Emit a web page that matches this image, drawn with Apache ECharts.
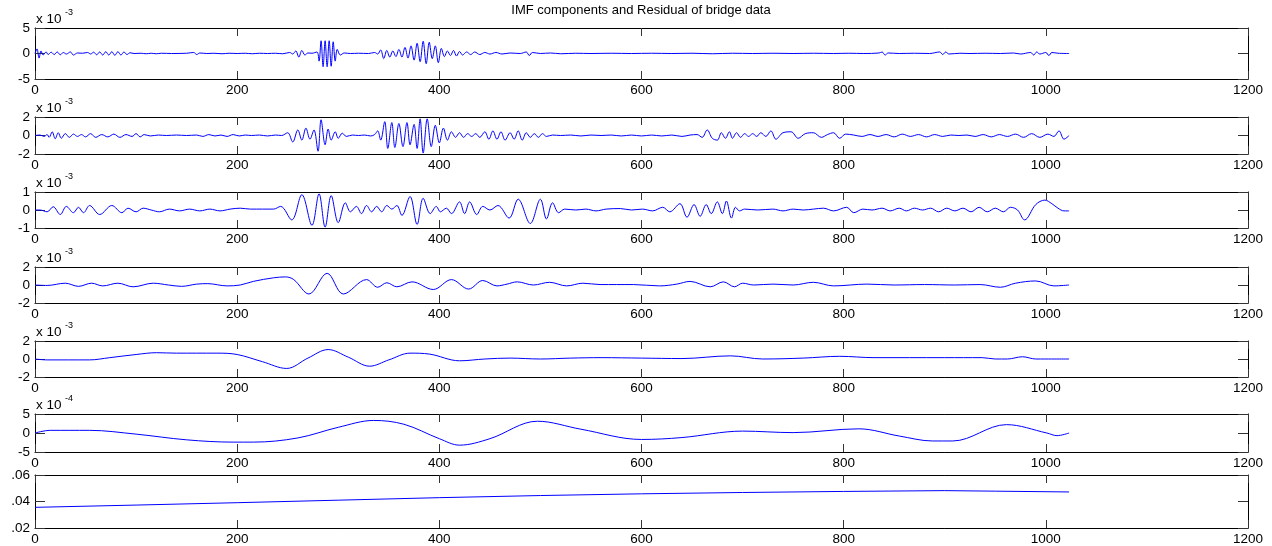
<!DOCTYPE html>
<html>
<head>
<meta charset="utf-8">
<script src="https://cdn.jsdelivr.net/npm/echarts@6/dist/echarts.min.js"></script>
<style>
html, body { margin: 0; padding: 0; background: #fff; }
#container { width: 1272px; height: 546px; }
</style>
</head>
<body>
<div id="container"></div>
<script>
// x axis: sample index
var xMax = 1200;
var xStep = 200;

// IMF 1..5 in units of 1e-3, IMF 6 in units of 1e-4, residual in real units
var imf1 = [[0,0],[2,0.9],[4,-0.9],[6,0.5],[8,-0.3],[11,0.3],[13,-0.2],[16,0.25],[19,-0.2],[22,0.3],[25,-0.25],[28,0.2],[31,-0.1],[35,0.3],[38,-0.3],[42,0.1],[47,0.05],[52,0.2],[55,-0.1],[58,0.25],[61,-0.25],[64,0.3],[67,-0.3],[70,0.35],[73,-0.3],[76,0.35],[79,-0.35],[82,0.35],[85,-0.3],[88,0.3],[91,-0.2],[94,0.15],[98,0],[105,0.05],[110,-0.05],[115,0.05],[120,-0.05],[125,0.05],[135,0],[150,0.05],[157,0.2],[160,-0.2],[163,0.1],[170,0],[177,0.05],[185,-0.05],[192,0.05],[200,0],[208,0.05],[215,-0.05],[222,0.05],[230,0],[238,0.05],[245,-0.05],[252,0.2],[255,-0.1],[258,0.5],[261,-0.7],[264,0.6],[267,-0.3],[270,0.1],[274,0.05],[279,0.3],[281,-1.5],[283,2.5],[285,-2.6],[287,2.5],[289,-2.6],[291,2.5],[293,-2.5],[295,2.3],[297,-1.5],[299,0.8],[302,-0.3],[306,0.1],[312,0],[320,0.05],[330,0],[336,0.2],[339,-0.1],[342,0.7],[345,-1.0],[348,0.6],[351,-0.7],[354,0.5],[357,-0.6],[360,0.8],[363,-0.7],[366,1.2],[369,-0.9],[372,1.5],[375,-1.3],[378,2.0],[381,-1.6],[384,2.4],[387,-2.0],[390,2.2],[393,-1.0],[396,1.5],[399,-1.8],[402,1.0],[405,-0.6],[408,0.5],[411,-0.4],[414,0.6],[417,-0.5],[420,0.4],[423,-0.3],[427,0.3],[431,-0.2],[435,0.3],[440,-0.2],[445,0.2],[450,-0.1],[456,0.2],[462,-0.1],[470,0.1],[480,0],[486,0.3],[489,-0.4],[492,0.2],[500,0],[510,0.1],[520,-0.05],[535,0.05],[550,0],[570,0.05],[590,0],[610,0.05],[630,0],[650,0.05],[670,-0.05],[690,0.05],[710,0],[730,0.05],[750,0],[770,0.05],[790,0],[805,0.05],[820,0],[835,0.1],[838,0.3],[841,-0.3],[844,0.1],[855,0],[870,0.05],[885,0],[895,0.3],[898,-0.2],[901,0.3],[904,-0.1],[915,0.05],[925,0],[940,0.05],[955,0],[968,0.1],[975,-0.1],[985,0.2],[988,-0.3],[991,0.3],[994,-0.1],[1000,0.2],[1003,-0.4],[1006,0.2],[1012,0.05],[1023,0]];

var imf2 = [[0,0],[5,0.05],[9,-0.1],[12,0.1],[14,-0.2],[17,0.4],[20,-0.35],[23,0.3],[26,-0.3],[30,0.2],[34,-0.2],[38,0.15],[42,-0.1],[46,0.1],[50,-0.15],[55,0.2],[60,-0.2],[66,0.1],[72,-0.15],[78,0.15],[84,-0.2],[90,0.1],[96,-0.1],[100,0.2],[104,-0.15],[108,0.1],[114,-0.05],[122,0.05],[130,0],[140,0.05],[150,0],[160,0.05],[166,-0.1],[172,0.1],[178,-0.05],[184,0.05],[190,-0.1],[196,0.1],[202,-0.05],[208,0.05],[214,0],[222,0.05],[230,-0.05],[238,0.05],[244,0],[250,0.3],[255,-0.7],[260,0.6],[264,-0.5],[268,0.8],[272,-0.4],[276,0.6],[280,-1.7],[283,1.7],[287,-1.0],[290,0.7],[293,-0.5],[297,0.4],[300,-0.3],[304,0.25],[308,-0.1],[314,0.05],[320,0],[326,0.05],[332,-0.05],[336,0.1],[339,0.5],[342,-0.5],[346,1.5],[349,-1.4],[353,1.4],[356,-1.3],[360,1.3],[364,-1.2],[368,1.4],[371,-1.0],[375,1.2],[378,-1.4],[381,1.8],[384,-1.9],[388,1.8],[392,-1.2],[396,1.1],[400,-0.8],[404,0.8],[408,-0.5],[412,0.4],[416,-0.2],[420,0.3],[424,-0.2],[428,0.2],[432,-0.1],[436,0.2],[440,-0.2],[445,0.4],[449,-0.4],[453,0.5],[457,-0.4],[461,0.4],[465,-0.5],[470,0.3],[474,-0.4],[478,0.5],[482,-0.5],[486,0.3],[490,-0.2],[494,0.2],[498,-0.2],[502,0.2],[506,-0.1],[512,0.05],[520,0],[530,0.05],[540,-0.05],[550,0.05],[560,0],[570,0.05],[580,-0.05],[590,0.05],[600,-0.05],[610,0.05],[620,-0.05],[630,0.05],[640,-0.1],[648,0.05],[655,0.1],[660,-0.2],[665,0.6],[670,-0.3],[675,-0.5],[679,0.3],[683,-0.3],[687,0.4],[690,-0.3],[694,0.3],[698,-0.2],[702,0.2],[706,-0.1],[710,0.2],[714,-0.1],[718,0.3],[723,-0.1],[728,0.5],[733,-0.4],[740,0.3],[748,0.4],[755,-0.3],[762,0.2],[770,0.3],[778,-0.2],[784,0.1],[790,0.3],[796,-0.3],[802,0.15],[810,0.05],[818,-0.1],[826,0.1],[834,-0.1],[842,0.1],[850,-0.15],[858,0.15],[866,-0.1],[874,0.1],[882,-0.15],[890,0.1],[898,-0.1],[906,0.05],[914,0],[922,0.05],[930,-0.1],[938,0.1],[946,-0.15],[954,0.1],[962,-0.1],[970,0.15],[978,-0.2],[986,0.2],[994,-0.2],[1002,0.15],[1008,-0.1],[1013,0.5],[1018,-0.4],[1023,0]];

var imf3 = [[0,0],[5,0],[12,-0.1],[18,0.18],[25,-0.25],[31,0.2],[38,-0.15],[43,0.15],[48,-0.15],[54,0.25],[64,-0.25],[76,0.25],[86,-0.15],[92,0.1],[100,-0.1],[107,0.1],[115,0],[123,-0.1],[133,0.05],[143,-0.05],[153,0.05],[163,-0.05],[173,0.05],[183,-0.05],[193,0.05],[203,0.1],[213,0.05],[225,0.05],[236,0.05],[243,0.2],[254,-0.55],[264,0.85],[274,-0.85],[281,0.9],[287,-0.95],[293,0.8],[300,-0.7],[307,0.4],[312,-0.1],[318,0.2],[323,-0.2],[328,0.25],[333,-0.1],[338,0.2],[343,-0.1],[348,0.25],[353,0.05],[358,0.25],[363,-0.3],[371,0.75],[378,-0.8],[384,0.65],[391,-0.2],[397,0.2],[401,-0.1],[407,0.1],[412,-0.2],[420,0.45],[425,-0.2],[430,0.45],[437,-0.25],[443,0.2],[450,0],[458,0.25],[469,-0.45],[478,0.6],[490,-0.75],[500,0.6],[506,-0.5],[512,0.4],[518,-0.15],[524,0.05],[535,0],[545,0.05],[555,-0.05],[565,0.05],[579,0.08],[590,0],[601,0.05],[611,-0.05],[621,0.15],[628,-0.1],[638,0.35],[645,-0.4],[652,0.3],[658,-0.35],[664,0.3],[669,-0.2],[675,0.45],[680,-0.2],[684,0.5],[689,-0.45],[693,0.15],[697,-0.05],[702,0.05],[715,0],[730,0.05],[740,-0.05],[750,0.05],[760,0],[770,0.05],[780,0.1],[790,-0.05],[803,0.15],[810,-0.15],[819,0.05],[828,0],[838,0.1],[846,-0.05],[855,0.1],[862,-0.05],[870,0.1],[878,0],[886,0.1],[894,-0.1],[902,0.1],[910,-0.05],[918,0.1],[926,-0.1],[934,0.15],[942,-0.1],[950,0.1],[958,-0.1],[965,0.15],[972,0],[979,-0.55],[990,0.3],[999,0.55],[1006,0.35],[1012,0.1],[1018,-0.05],[1023,-0.05]];

var imf4 = [[0,0],[12,-0.05],[30,0.2],[43,-0.15],[56,0.2],[67,-0.1],[82,0.2],[97,-0.2],[117,0.2],[132,0],[145,-0.15],[160,0.1],[171,0.15],[190,-0.1],[203,0],[216,0.4],[236,0.8],[248,0.9],[256,0.6],[271,-1.0],[289,1.3],[305,-1.0],[328,0.6],[339,-0.25],[348,0.25],[358,-0.2],[373,0.35],[394,-0.5],[412,0.6],[429,-0.45],[443,0.5],[457,-0.1],[467,0.1],[477,0.35],[493,0],[509,0.3],[526,-0.1],[542,0.2],[559,0.05],[592,0.05],[618,-0.1],[635,0.1],[648,0.4],[668,-0.2],[681,0.35],[692,-0.2],[700,0.2],[711,0],[730,0.1],[750,0],[770,0.3],[790,-0.1],[823,0.1],[850,0],[880,0.05],[910,0],[935,0.05],[955,-0.25],[970,0.2],[990,0.45],[1008,-0.1],[1023,0]];

var imf5 = [[0,0],[12,-0.1],[54,-0.1],[74,0.15],[100,0.5],[120,0.7],[140,0.65],[180,0.65],[200,0.5],[225,-0.3],[249,-1.05],[270,0.1],[290,1.05],[310,0.2],[331,-0.8],[350,-0.1],[371,0.65],[390,0.55],[420,-0.2],[445,0],[470,0.1],[500,0],[530,0.1],[560,0.15],[600,0.1],[640,0.05],[688,0.35],[720,0],[760,0.1],[796,0.3],[830,0.15],[900,0.15],[937,0.15],[950,0],[962,0],[977,0.25],[990,0],[1023,0]];

var imf6 = [[0,0],[15,0.7],[54,0.7],[100,-0.3],[150,-1.8],[196,-2.4],[216,-2.4],[260,-1.3],[300,1.5],[335,3.3],[365,2.3],[400,-1.5],[420,-3.2],[450,-1.5],[497,3.1],[540,1.0],[600,-1.7],[640,-1.2],[700,0.5],[750,0.1],[815,1.1],[855,-0.8],[888,-2.1],[908,-2.1],[961,2.2],[1001,0],[1011,-0.7],[1023,0]];

var residual = [[0,0.0356],[100,0.0373],[200,0.0391],[300,0.041],[400,0.0429],[500,0.0445],[600,0.0458],[700,0.0468],[800,0.0476],[900,0.0482],[950,0.0478],[1023,0.0472]];

var seriesData = [imf1, imf2, imf3, imf4, imf5, imf6, residual];
var yRanges = [[-5, 5], [-2, 2], [-1, 1], [-2, 2], [-2, 2], [-5, 5], [0.02, 0.06]];
var yExponents = ['-3', '-3', '-3', '-3', '-3', '-4', null];

// subplot boxes (pixels)
var panelTop = [28, 117, 192, 267, 341, 414, 475];
var panelHeight = [51, 37, 36, 36, 36, 38, 53];

var FONT = '"Liberation Sans", Arial, Helvetica, sans-serif';
var FS = 13.5;
var dom = document.getElementById("container");
var myChart = echarts.init(dom, null, {renderer: 'canvas'});

var grids = [], xAxes = [], yAxes = [], series = [], graphics = [];

graphics.push({
    type: 'text', x: 641, y: 10,
    style: {text: 'IMF components and Residual of bridge data', font: '13px ' + FONT, fill: '#000', align: 'center', verticalAlign: 'middle'}
});

for (var i = 0; i < seriesData.length; i++) {
    grids.push({left: 35, right: 24, top: panelTop[i], height: panelHeight[i]});
    var lineStyle = {color: '#000', width: 1};
    var tickStyle = {color: '#333', width: 1};
    // bottom x axis with labels
    xAxes.push({
        type: 'value', gridIndex: i, min: 0, max: xMax, interval: xStep, position: 'bottom',
        axisLine: {show: true, onZero: false, lineStyle: lineStyle},
        axisTick: {show: true, inside: true, length: 8, lineStyle: tickStyle},
        axisLabel: {color: '#000', fontSize: FS, fontFamily: FONT, margin: 4, formatter: function (v) { return String(v); }},
        splitLine: {show: false}
    });
    // top x axis, ticks only
    xAxes.push({
        type: 'value', gridIndex: i, min: 0, max: xMax, interval: xStep, position: 'top',
        axisLine: {show: true, onZero: false, lineStyle: lineStyle},
        axisTick: {show: true, inside: true, length: 8, lineStyle: tickStyle},
        axisLabel: {show: false},
        splitLine: {show: false}
    });
    var r = yRanges[i];
    var isRes = (yExponents[i] === null);
    yAxes.push({
        type: 'value', gridIndex: i, min: r[0], max: r[1], interval: (r[1] - r[0]) / 2, position: 'left',
        axisLine: {show: true, onZero: false, lineStyle: lineStyle},
        axisTick: {show: true, inside: true, length: 10, lineStyle: tickStyle},
        axisLabel: {
            color: '#000', fontSize: FS, fontFamily: FONT, margin: 5,
            formatter: isRes ? function (v) { return v.toFixed(2).replace(/^0/, ''); } : function (v) { return String(v); }
        },
        splitLine: {show: false}
    });
    yAxes.push({
        type: 'value', gridIndex: i, min: r[0], max: r[1], interval: (r[1] - r[0]) / 2, position: 'right',
        axisLine: {show: true, onZero: false, lineStyle: lineStyle},
        axisTick: {show: true, inside: true, length: 10, lineStyle: tickStyle},
        axisLabel: {show: false},
        splitLine: {show: false}
    });
    series.push({
        type: 'line',
        xAxisIndex: 2 * i,
        yAxisIndex: 2 * i,
        data: seriesData[i],
        showSymbol: false,
        smooth: isRes ? false : 0.35,
        lineStyle: {color: '#0000ff', width: 1},
        itemStyle: {color: '#0000ff'},
        silent: true
    });
    if (!isRes) {
        graphics.push({
            type: 'text', x: 36, y: panelTop[i] - 9,
            style: {text: 'x 10', font: FS + 'px ' + FONT, fill: '#000', verticalAlign: 'middle'}
        });
        graphics.push({
            type: 'text', x: 65, y: panelTop[i] - 15,
            style: {text: yExponents[i], font: '9px ' + FONT, fill: '#000', verticalAlign: 'middle'}
        });
    }
}

option = {
    backgroundColor: '#fff',
    animation: false,
    grid: grids,
    xAxis: xAxes,
    yAxis: yAxes,
    series: series,
    graphic: graphics
};

if (option && typeof option === "object") {
    myChart.setOption(option, true);
}
</script>
</body>
</html>
